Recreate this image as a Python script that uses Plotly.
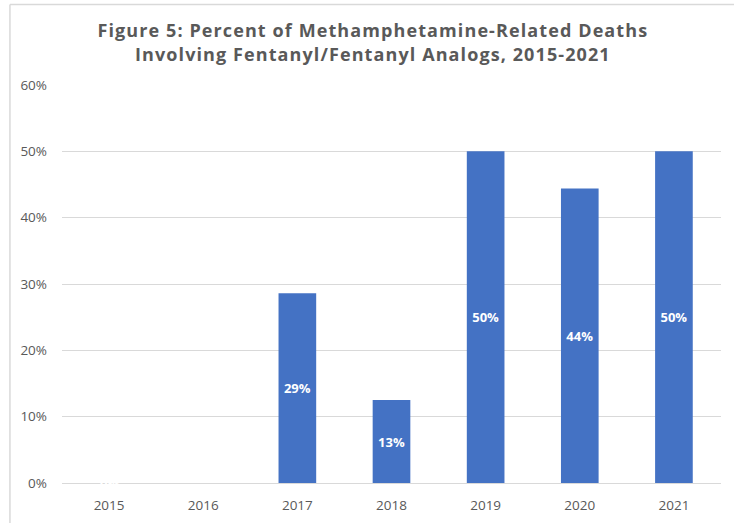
import plotly.graph_objects as go

# Share of methamphetamine-related deaths that also involved fentanyl/fentanyl analogs
years = ["2015", "2016", "2017", "2018", "2019", "2020", "2021"]
percent = [0.0, None, 28.6, 12.5, 50.0, 44.4, 50.0]
labels = ["0%", "", "29%", "13%", "50%", "44%", "50%"]

y_ticks = [0, 10, 20, 30, 40, 50, 60]
y_tick_text = ["0%", "10%", "20%", "30%", "40%", "50%", "60%"]

BAR = "#4472C4"
GREY = "#595959"
GRID = "#D9D9D9"

fig = go.Figure()
fig.add_trace(go.Bar(
    x=years,
    y=percent,
    marker=dict(color=BAR, line=dict(width=0)),
    text=[l if (v is not None and v > 0) else "" for l, v in zip(labels, percent)],
    textposition="inside",
    insidetextanchor="middle",
    textangle=0,
    textfont=dict(family="Open Sans", size=13, color="white", weight="bold"),
    hoverinfo="skip",
))

# zero-height bars still carry their value label on the baseline
for i, (v, l) in enumerate(zip(percent, labels)):
    if v is not None and v == 0:
        fig.add_annotation(x=i, y=v, text=l, showarrow=False, yanchor="middle",
                           font=dict(family="Open Sans", size=13, color="white", weight="bold"))

# chart-area frame: only the top and left edges fall inside the page
frame = dict(xref="paper", yref="paper", line=dict(color=GRID, width=1.5), layer="below")

fig.update_layout(
    width=734,
    height=523,
    margin=dict(l=62, r=13, t=85, b=40),
    paper_bgcolor="white",
    plot_bgcolor="white",
    bargap=0.6,
    showlegend=False,
    title=dict(
        text="Figure 5: Percent of Methamphetamine-Related Deaths<br>Involving Fentanyl/Fentanyl Analogs, 2015-2021",
        x=0.508, xanchor="center", y=0.929, yanchor="top",
        font=dict(family="Open Sans", size=18, color=GREY, weight="bold"),
    ),
    xaxis=dict(
        type="category",
        range=[-0.5, len(years) - 0.5],
        automargin=False,
        showgrid=False,
        showline=True,
        linecolor=GRID,
        linewidth=1,
        ticks="",
        tickfont=dict(family="Open Sans", size=13.5, color=GREY),
        ticklabelstandoff=10,
    ),
    yaxis=dict(
        range=[0, 60],
        automargin=False,
        tickvals=y_ticks,
        ticktext=y_tick_text,
        showgrid=True,
        gridcolor=GRID,
        gridwidth=1,
        zeroline=False,
        showline=False,
        ticks="",
        tickfont=dict(family="Open Sans", size=13.5, color=GREY),
        ticklabelstandoff=14,
    ),
    shapes=[
        dict(type="line", x0=-0.079, x1=1.1, y0=1.202, y1=1.202, **frame),
        dict(type="line", x0=-0.079, x1=-0.079, y0=-0.2, y1=1.202, **frame),
    ],
)

# widen the title's tracking a little
title_spacing = (
    "document.querySelectorAll('.gtitle').forEach(function(e){"
    "e.style.letterSpacing='1.1px';});"
)

fig.write_html("out.html", post_script=title_spacing)
